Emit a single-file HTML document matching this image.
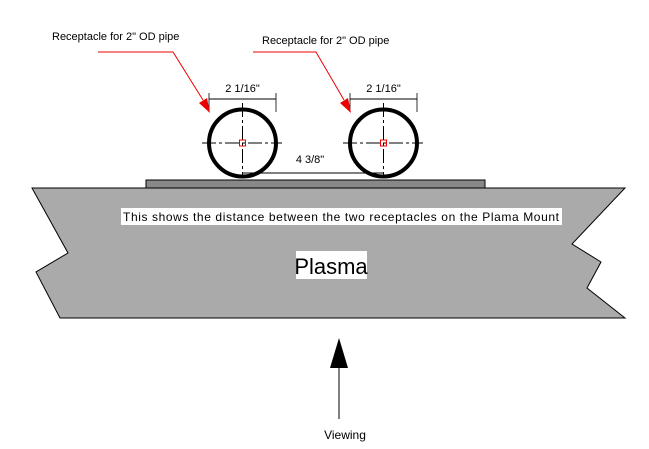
<!DOCTYPE html>
<html><head><style>body{margin:0;background:#fff}svg{display:block}</style></head><body>
<svg width="649" height="449" viewBox="0 0 649 449" xmlns="http://www.w3.org/2000/svg" font-family="Liberation Sans, sans-serif">
<polygon points="32,188 68,253 36,272 60,318 625,318 587,288 601,262 572,244 625,188" fill="#aaaaaa" stroke="#000" stroke-width="1"/>
<rect x="146" y="180" width="339" height="8" fill="#888" stroke="#000" stroke-width="1"/>
<rect x="121" y="208" width="441" height="17" fill="#fff"/>
<text x="341" y="221" font-size="12" text-anchor="middle" textLength="436">This shows the distance between the two receptacles on the Plama Mount</text>
<rect x="296" y="251" width="71" height="28" fill="#fff"/>
<text x="331" y="274" font-size="22" text-anchor="middle">Plasma</text>
<g id="p1">
<circle cx="242.5" cy="143" r="33.5" fill="none" stroke="#000" stroke-width="4"/>
<line x1="202" y1="143" x2="282" y2="143" stroke="#000" stroke-dasharray="14,3,3,3"/>
<line x1="242.5" y1="103" x2="242.5" y2="176" stroke="#000" stroke-dasharray="14,3,3,3"/>
<rect x="239.5" y="140" width="6" height="6" fill="none" stroke="#e00" stroke-width="1"/>
<line x1="209" y1="99" x2="276" y2="99" stroke="#000"/>
<line x1="209" y1="93" x2="209" y2="112" stroke="#000" stroke-width="0.8"/>
<line x1="276" y1="93" x2="276" y2="112" stroke="#000" stroke-width="0.8"/>
<text x="242.5" y="92" font-size="11" text-anchor="middle">2 1/16"</text>
</g>
<use href="#p1" transform="translate(141,0)"/>
<line x1="242.5" y1="173" x2="383.5" y2="173" stroke="#000"/>
<text x="310" y="163" font-size="11" text-anchor="middle">4 3/8"</text>
<polyline points="98,52 173,52 203,100" fill="none" stroke="#e00" stroke-width="1"/>
<polygon points="210,113 199,103 207,98" fill="#e00"/>
<polyline points="253,52 316,52 344,100" fill="none" stroke="#e00" stroke-width="1"/>
<polygon points="351,113 340,103 348,98" fill="#e00"/>
<text x="52" y="40" font-size="11">Receptacle for 2" OD pipe</text>
<text x="262" y="44" font-size="11">Receptacle  for 2" OD pipe</text>
<line x1="339" y1="360" x2="339" y2="419" stroke="#000"/>
<polygon points="339,338 330,368 348,368" fill="#000"/>
<text x="345" y="439" font-size="12" text-anchor="middle">Viewing</text>
</svg>
</body></html>
